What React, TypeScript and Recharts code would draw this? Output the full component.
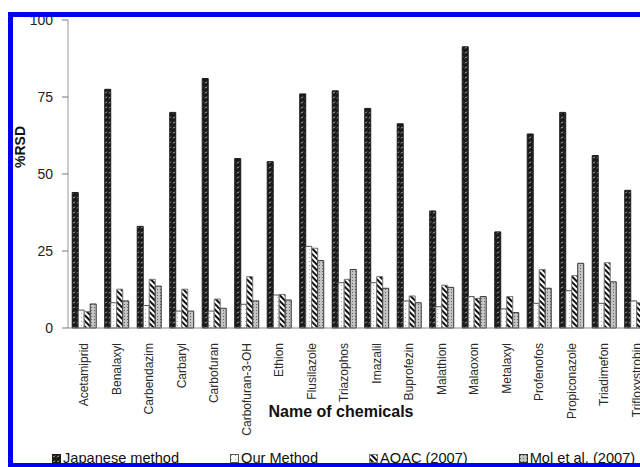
import React from 'react'
import { BarChart, Bar, XAxis, YAxis } from 'recharts'

const categories = [
  'Acetamiprid', 'Benalaxyl', 'Carbendazim', 'Carbaryl', 'Carbofuran', 'Carbofuran-3-OH',
  'Ethion', 'Flusilazole', 'Triazophos', 'Imazalil', 'Buprofezin', 'Malathion',
  'Malaoxon', 'Metalaxyl', 'Profenofos', 'Propiconazole', 'Triadimefon', 'Trifloxystrobin'
]
const japaneseMethod = [44, 77.5, 33, 70, 81, 55, 54, 76, 77, 71.3, 66.3, 38, 91.3, 31.2, 63, 70, 56, 44.7]
const ourMethod = [5.8, 8.2, 7.3, 5.5, 5.5, 7.7, 10.7, 26.5, 14.7, 14.7, 8.8, 6.9, 10.2, 6.2, 8, 12.1, 8, 8.8]
const aoac2007 = [5.3, 12.6, 15.8, 12.6, 9.4, 16.7, 10.9, 25.9, 15.8, 16.7, 10.4, 13.9, 9.6, 10.2, 19, 17, 21.2, 8.2]
const molEtAl2007 = [7.8, 8.8, 13.6, 5.5, 6.4, 8.8, 9.1, 21.9, 19, 12.9, 8.2, 13.2, 10.2, 5, 12.9, 21, 15, 7.5]
const yTicks = [0, 25, 50, 75, 100]

const data = categories.map((name, i) => ({
  name,
  japanese: japaneseMethod[i],
  our: ourMethod[i],
  aoac: aoac2007[i],
  mol: molEtAl2007[i],
}))
const boundaryTicks = [...categories.map((_, i) => i), categories.length]

const series = [
  { key: 'japanese', label: 'Japanese method', fill: 'url(#patJapanese)', stroke: '#1a1a1a' },
  { key: 'our', label: 'Our Method', fill: 'url(#patOur)', stroke: '#555' },
  { key: 'aoac', label: 'AOAC (2007)', fill: 'url(#patAoac)', stroke: '#777' },
  { key: 'mol', label: 'Mol et al. (2007)', fill: 'url(#patMol)', stroke: '#333' },
]

const font = 'Arial, "Liberation Sans", sans-serif'

function Patterns() {
  return (
    <defs>
      <pattern id="patJapanese" width="4" height="5" patternUnits="userSpaceOnUse">
        <rect width="4" height="5" fill="#1a1a1a" />
        <line x1="1.2" y1="3.3" x2="2.8" y2="1.7" stroke="#fff" strokeWidth="0.9" />
      </pattern>
      <pattern id="patOur" width="4" height="4" patternUnits="userSpaceOnUse">
        <rect width="4" height="4" fill="#fff" />
        <rect x="1" y="1" width="1" height="1" fill="#aaa" />
      </pattern>
      <pattern id="patAoac" width="4" height="4" patternUnits="userSpaceOnUse" patternTransform="rotate(-45)">
        <rect width="4" height="4" fill="#fff" />
        <rect width="2" height="4" fill="#111" />
      </pattern>
      <pattern id="patMol" width="3" height="3" patternUnits="userSpaceOnUse">
        <rect width="3" height="3" fill="#c4c4c4" />
        <rect x="1" y="1" width="1" height="1" fill="#666" />
      </pattern>
    </defs>
  )
}

function NameTick({ x, y, payload }: any) {
  return (
    <g transform={`translate(${x},${y})`}>
      <text
        x={-13}
        y={0}
        dy="0.35em"
        transform="rotate(-90)"
        textAnchor="end"
        fontSize={12}
        fontFamily={font}
        fill="#2a2a2a"
      >
        {payload.value}
      </text>
    </g>
  )
}

function LegendIcon({ fill, stroke }: { fill: string; stroke: string }) {
  return (
    <svg width="9" height="9" style={{ marginRight: 2, verticalAlign: 'middle' }}>
      <rect x="0.5" y="0.5" width="8" height="8" fill={fill} stroke={stroke} />
    </svg>
  )
}

export default function App() {
  return (
    <div
      style={{
        position: 'absolute',
        left: 0,
        top: 0,
        width: 640,
        height: 467,
        overflow: 'hidden',
        background: '#fff',
        fontFamily: font,
      }}
    >
      <svg width="0" height="0" style={{ position: 'absolute' }}>
        <Patterns />
      </svg>
      <div style={{ position: 'absolute', left: 0, top: 0 }}>
        <BarChart
          width={660}
          height={467}
          data={data}
          margin={{ top: 20, right: 7, left: 0, bottom: 0 }}
          barCategoryGap="13%"
          barGap={0}
        >
          <XAxis
            dataKey="name"
            interval={0}
            height={139}
            tick={<NameTick />}
            tickLine={false}
            tickSize={0}
            axisLine={{ stroke: '#888' }}
          />
          <XAxis
            xAxisId="bounds"
            type="number"
            domain={[0, categories.length]}
            ticks={boundaryTicks}
            height={0}
            tick={false}
            tickSize={4}
            tickLine={{ stroke: '#777' }}
            axisLine={false}
            allowDataOverflow
          />
          <YAxis
            width={68}
            domain={[0, 100]}
            ticks={yTicks}
            tickSize={6}
            tickMargin={9}
            axisLine={{ stroke: '#999' }}
            tickLine={{ stroke: '#777' }}
            tick={{ fontSize: 14, fill: '#222', fontFamily: font }}
          />
          {series.map((s) => (
            <Bar
              key={s.key}
              dataKey={s.key}
              name={s.label}
              fill={s.fill}
              stroke={s.stroke}
              strokeWidth={1}
              isAnimationActive={false}
            />
          ))}
        </BarChart>
      </div>
      <div
        style={{
          position: 'absolute',
          left: 20,
          top: 147,
          transform: 'translate(-50%, -50%) rotate(-90deg)',
          fontWeight: 'bold',
          fontSize: 14,
          color: '#111',
          whiteSpace: 'nowrap',
        }}
      >
        %RSD
      </div>
      <div
        style={{
          position: 'absolute',
          left: 341,
          top: 412,
          transform: 'translate(-50%, -50%)',
          fontWeight: 'bold',
          fontSize: 16,
          color: '#111',
          whiteSpace: 'nowrap',
        }}
      >
        Name of chemicals
      </div>
      <div
        style={{
          position: 'absolute',
          left: 52,
          top: 451,
          display: 'flex',
          gap: 51,
          fontSize: 14.6,
          lineHeight: '15px',
          color: '#111',
          whiteSpace: 'nowrap',
        }}
      >
        {series.map((s) => (
          <span key={s.key} style={{ display: 'flex', alignItems: 'center' }}>
            <LegendIcon fill={s.fill} stroke={s.stroke} />
            {s.label}
          </span>
        ))}
      </div>
      <div
        style={{
          position: 'absolute',
          left: 8,
          top: 12,
          width: 700,
          height: 456,
          boxSizing: 'border-box',
          border: '5px solid #0000f0',
          pointerEvents: 'none',
        }}
      />
    </div>
  )
}
